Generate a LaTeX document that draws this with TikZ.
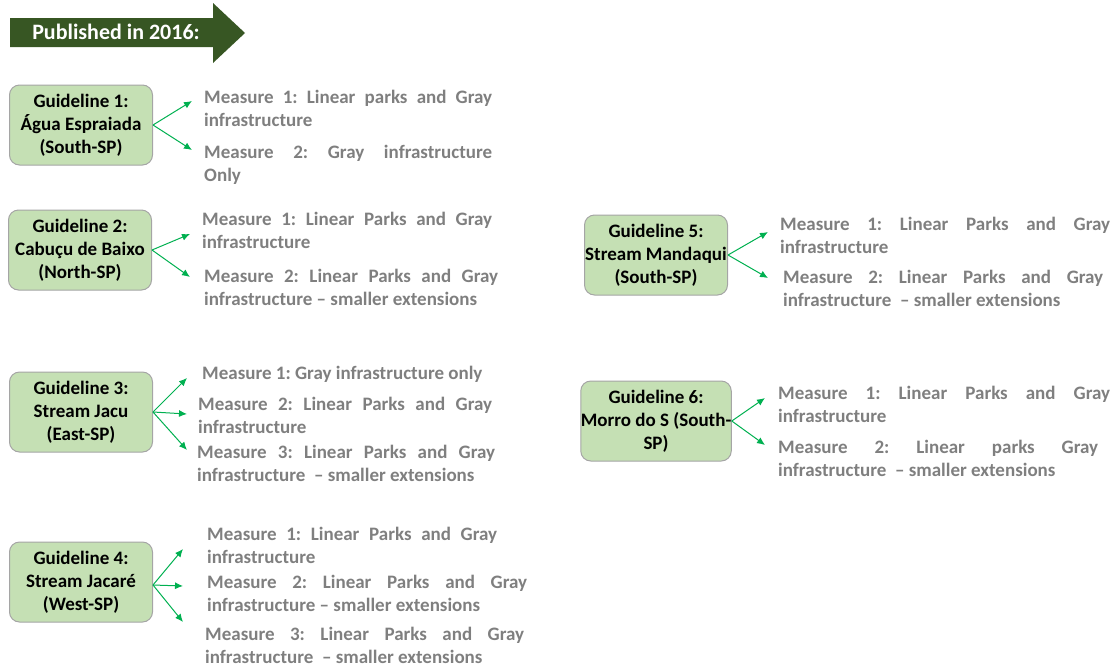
\documentclass[tikz,border=0pt]{standalone}
\usepackage{fontspec}
\setmainfont{Carlito}
\usepackage{xcolor}
\usetikzlibrary{arrows.meta}

\definecolor{bannergreen}{HTML}{375623}
\definecolor{boxgreen}{HTML}{C5E0B4}
\definecolor{boxline}{HTML}{A5A5A5}
\definecolor{arrowgreen}{HTML}{00B050}
\definecolor{measuregray}{HTML}{7F7F7F}

% one justified line of a measure
\newcommand{\jline}[2]{\makebox[#1pt][s]{#2}}

\tikzset{
  guide/.style={draw=boxline, line width=1pt, fill=boxgreen, rounded corners=10pt,
    minimum width=143pt, minimum height=80pt, inner sep=0pt, align=center,
    font=\fontsize{19}{23}\selectfont\bfseries},
  measure/.style={anchor=west, inner sep=0pt, align=left, text=measuregray,
    font=\fontsize{19}{23}\selectfont\bfseries\frenchspacing},
  link/.style={draw=arrowgreen, line width=1pt, -{Latex[length=8pt,width=7pt]}}
}

\begin{document}
\begin{tikzpicture}[x=1pt,y=-1pt]
    \useasboundingbox (0,0) rectangle (1115,667);

    % Freccia del titolo
    \fill[bannergreen] (10,18) -- (213,18) -- (213,3) -- (245,33) -- (213,63) -- (213,47) -- (10,47) -- cycle;
    \node[text=white, font=\fontsize{22}{26}\selectfont\bfseries] (pub) at (116,32) {Published in 2016:};

    % Guidelines
    \node[guide] (g1) at (81,125) {Guideline 1:\\Água Espraiada\\(South-SP)};
    \node[guide] (g2) at (80,250) {Guideline 2:\\Cabuçu de Baixo\\(North-SP)};
    \node[guide] (g3) at (81,412) {Guideline 3:\\Stream Jacu\\(East-SP)};
    \node[guide] (g4) at (81,582) {Guideline 4:\\Stream Jacaré\\(West-SP)};
    \node[guide] (g5) at (656,255) {Guideline 5:\\Stream Mandaqui\\(South-SP)};
    \node[guide] (g6) at (656,421) {Guideline 6:\\Morro do S (South-\\SP)};

    % Measures
    \node[measure] (g1m1) at (204,108.5) {\jline{288}{Measure 1: Linear parks and Gray}\\infrastructure};
    \node[measure] (g1m2) at (204,164.5) {\jline{288}{Measure 2: Gray infrastructure}\\Only};
    \node[measure] (g2m1) at (202,230.5) {\jline{290}{Measure 1: Linear Parks and Gray}\\infrastructure};
    \node[measure] (g2m2) at (204,287.5) {\jline{294}{Measure 2: Linear Parks and Gray}\\infrastructure -- smaller extensions};
    \node[measure] (g3m1) at (202,374) {Measure 1: Gray infrastructure only};
    \node[measure] (g3m2) at (198,415.5) {\jline{294}{Measure 2: Linear Parks and Gray}\\infrastructure};
    \node[measure] (g3m3) at (197,463.5) {\jline{298}{Measure 3: Linear Parks and Gray}\\infrastructure\ \ -- smaller extensions};
    \node[measure] (g4m1) at (207,545.5) {\jline{290}{Measure 1: Linear Parks and Gray}\\infrastructure};
    \node[measure] (g4m2) at (207,593.5) {\jline{320}{Measure 2: Linear Parks and Gray}\\infrastructure -- smaller extensions};
    \node[measure] (g4m3) at (205,645) {\jline{319}{Measure 3: Linear Parks and Gray}\\infrastructure\ \ -- smaller extensions};
    \node[measure] (g5m1) at (780,235.5) {\jline{330}{Measure 1: Linear Parks and Gray}\\infrastructure};
    \node[measure] (g5m2) at (783,288.5) {\jline{320}{Measure 2: Linear Parks and Gray}\\infrastructure\ \ -- smaller extensions};
    \node[measure] (g6m1) at (778,404.5) {\jline{332}{Measure 1: Linear Parks and Gray}\\infrastructure};
    \node[measure] (g6m2) at (778,458.5) {\jline{320}{Measure 2: Linear parks Gray}\\infrastructure\ \ -- smaller extensions};

    % Punte delle frecce
    \coordinate (t11) at (192,101);
    \coordinate (t12) at (192,150);
    \coordinate (t21) at (190,234);
    \coordinate (t22) at (190,277);
    \coordinate (t31) at (187,378);
    \coordinate (t32) at (187,414);
    \coordinate (t33) at (187,450);
    \coordinate (t41) at (183,549);
    \coordinate (t42) at (183,586);
    \coordinate (t43) at (183,622);
    \coordinate (t51) at (768,232);
    \coordinate (t52) at (768,278);
    \coordinate (t61) at (765,398);
    \coordinate (t62) at (765,445);

    % Frecce
    \draw[link] (g1.east) -- (t11);
    \draw[link] (g1.east) -- (t12);
    \draw[link] (g2.east) -- (t21);
    \draw[link] (g2.east) -- (t22);
    \draw[link] (g3.east) -- (t31);
    \draw[link] (g3.east) -- (t32);
    \draw[link] (g3.east) -- (t33);
    \draw[link] ([yshift=-3pt]g4.east) -- (t41);
    \draw[link] ([yshift=-3pt]g4.east) -- (t42);
    \draw[link] ([yshift=-3pt]g4.east) -- (t43);
    \draw[link] (g5.east) -- (t51);
    \draw[link] (g5.east) -- (t52);
    \draw[link] (g6.east) -- (t61);
    \draw[link] (g6.east) -- (t62);
\end{tikzpicture}
\end{document}
